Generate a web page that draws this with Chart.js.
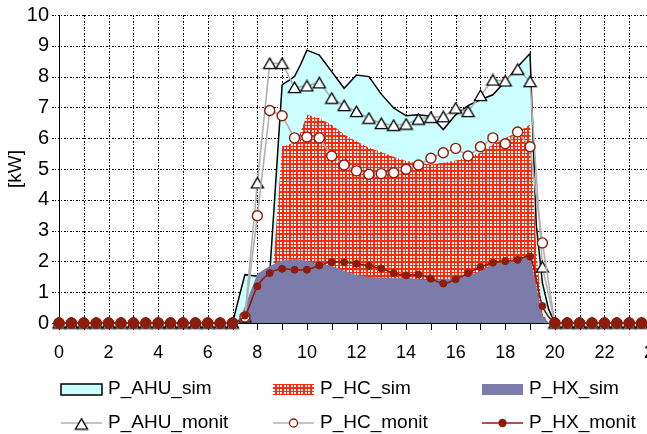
<!DOCTYPE html>
<html>
<head>
<meta charset="utf-8">
<script src="https://cdn.jsdelivr.net/npm/chart.js@4.4.1/dist/chart.umd.min.js"></script>
<style>
  html, body { margin: 0; padding: 0; background: #fff; }
  #wrap { width: 647px; height: 434px; overflow: hidden; position: relative; }
  canvas { display: block; }
</style>
</head>
<body>
<div id="wrap"><canvas id="chart" width="680" height="434"></canvas></div>
<script>
// Monitored values, every half hour
const monitHours = [0, 0.5, 1, 1.5, 2, 2.5, 3, 3.5, 4, 4.5, 5, 5.5, 6, 6.5, 7, 7.5,
  8, 8.5, 9, 9.5, 10, 10.5, 11, 11.5, 12, 12.5, 13, 13.5, 14, 14.5, 15, 15.5,
  16, 16.5, 17, 17.5, 18, 18.5, 19, 19.5, 20, 20.5, 21, 21.5, 22, 22.5, 23, 23.5];

const ahuMonit = [0, 0, 0, 0, 0, 0, 0, 0, 0, 0, 0, 0, 0, 0, 0, 0.2,
  4.55, 8.43, 8.43, 7.65, 7.7, 7.8, 7.3, 7.06, 6.87, 6.65, 6.48, 6.42, 6.46, 6.62, 6.68, 6.7,
  6.98, 6.87, 7.39, 7.89, 7.86, 8.24, 7.84, 1.82, 0, 0, 0, 0, 0, 0, 0, 0];

const hcMonit = [0, 0, 0, 0, 0, 0, 0, 0, 0, 0, 0, 0, 0, 0, 0, 0.2,
  3.48, 6.9, 6.73, 6.01, 6.04, 6.01, 5.42, 5.13, 4.94, 4.83, 4.85, 4.88, 4.99, 5.13, 5.35, 5.53,
  5.67, 5.42, 5.72, 6.01, 5.82, 6.2, 5.72, 2.6, 0, 0, 0, 0, 0, 0, 0, 0];

const hxMonit = [0, 0, 0, 0, 0, 0, 0, 0, 0, 0, 0, 0, 0, 0, 0, 0.24,
  1.19, 1.62, 1.76, 1.73, 1.73, 1.87, 1.98, 1.97, 1.92, 1.86, 1.77, 1.62, 1.55, 1.57, 1.44, 1.28,
  1.42, 1.62, 1.82, 1.96, 2.01, 2.05, 2.16, 0.55, 0, 0, 0, 0, 0, 0, 0, 0];

// Simulated values
const simHours = [0, 7, 7.25, 7.5, 8, 8.5, 9, 9.5, 9.75, 10, 10.5, 11, 11.5, 12, 12.5, 13, 13.5,
  14, 14.5, 15, 15.5, 16, 16.5, 17, 17.5, 18, 18.5, 19, 19.25, 19.5, 19.75, 20, 24];

const ahuSim = [0, 0, 0.8, 1.57, 1.52, 1.6, 7.73, 8.0, 8.4, 8.86, 8.7, 8.16, 7.62, 8.05, 8.0, 7.43, 6.98,
  6.73, 6.76, 6.71, 6.28, 6.76, 7.06, 7.25, 7.41, 7.84, 8.32, 8.75, 3.2, 1.3, 0.45, 0, 0];

const hcSim = [0, 0, 0, 0, 0, 0.3, 5.74, 5.85, 6.2, 6.76, 6.65, 6.44, 6.12, 5.9, 5.69, 5.55, 5.4,
  5.26, 5.2, 5.15, 5.2, 5.28, 5.37, 5.53, 5.8, 6.0, 6.2, 6.44, 2.4, 0.3, 0, 0, 0];

const hxSim = [0, 0, 0, 0.55, 1.6, 1.85, 2.03, 2.09, 2.05, 2.0, 1.93, 1.87, 1.7, 1.56, 1.49, 1.48, 1.45,
  1.47, 1.42, 1.39, 1.42, 1.45, 1.55, 1.68, 1.93, 1.98, 2.05, 2.19, 1.2, 0.25, 0, 0, 0];

const seriesLabels = ['P_AHU_sim', 'P_HC_sim', 'P_HX_sim', 'P_AHU_monit', 'P_HC_monit', 'P_HX_monit'];
const yTitle = '[kW]';

const FONT = '"Liberation Sans", Arial, sans-serif';
const GRAY = '#B0B0B0';
const DARKRED = '#8C1C0C';

function pts(xs, ys) { return xs.map((x, i) => ({ x: x, y: ys[i] })); }

// red / white checker fill
function makeChecker() {
  const c = document.createElement('canvas');
  c.width = 7; c.height = 7;
  const g = c.getContext('2d');
  g.fillStyle = 'rgb(255,40,10)';
  g.fillRect(0, 0, 7, 7);
  g.fillStyle = '#fff';
  [0, 4].forEach(x => [0, 4].forEach(y => g.fillRect(x, y, 2, 2)));
  return g.createPattern(c, 'repeat');
}

// Excel-like triangle marker, centred on its box
function makeTriangle() {
  const c = document.createElement('canvas');
  c.width = 15; c.height = 13;
  const g = c.getContext('2d');
  g.beginPath();
  g.moveTo(7.5, 1.2);
  g.lineTo(13.6, 11.6);
  g.lineTo(1.4, 11.6);
  g.closePath();
  g.fillStyle = '#fff';
  g.fill();
  g.lineWidth = 1.3;
  g.strokeStyle = '#000';
  g.stroke();
  return c;
}

const checker = makeChecker();
const triangle = makeTriangle();

// dotted grid + tick marks from the chart's own scales,
// painted behind everything already on the canvas
const dotGrid = {
  id: 'dotGrid',
  afterDraw(chart) {
    const { ctx, chartArea: a, scales: { x, y } } = chart;
    ctx.save();
    ctx.globalCompositeOperation = 'destination-over';
    ctx.lineWidth = 1;
    ctx.strokeStyle = '#000';
    ctx.setLineDash([]);
    x.ticks.forEach(t => {
      const px = Math.round(x.getPixelForValue(t.value)) + 0.5;
      ctx.beginPath();
      ctx.moveTo(px, a.bottom);
      ctx.lineTo(px, a.bottom + 7);
      ctx.stroke();
    });
    ctx.setLineDash([2, 1, 1, 2]);
    x.ticks.forEach(t => {
      if (t.value === 0) return;
      const px = Math.round(x.getPixelForValue(t.value)) + 0.5;
      ctx.beginPath();
      ctx.moveTo(px, a.top);
      ctx.lineTo(px, a.bottom);
      ctx.stroke();
    });
    y.ticks.forEach(t => {
      const py = Math.round(y.getPixelForValue(t.value)) + 0.5;
      ctx.beginPath();
      ctx.moveTo(a.left - 7, py);
      ctx.lineTo(t.value === 0 ? a.left : a.right, py);
      ctx.stroke();
    });
    ctx.restore();
  }
};

const LEG_X = [61, 273, 482];
const LEG_Y = [389, 423];

const gridLegend = {
  id: 'gridLegend',
  afterDraw(chart) {
    const ctx = chart.ctx;
    ctx.save();
    chart.data.datasets.forEach((ds, i) => {
      const x0 = LEG_X[i % 3], y = LEG_Y[Math.floor(i / 3)];
      if (i < 3) {
        ctx.fillStyle = ds.backgroundColor;
        ctx.fillRect(x0, y - 5, 41, 11);
        if (ds.borderWidth) {
          ctx.lineWidth = 1.5;
          ctx.strokeStyle = ds.borderColor;
          ctx.strokeRect(x0, y - 5, 41, 11);
        }
      } else {
        ctx.beginPath();
        ctx.moveTo(x0, y);
        ctx.lineTo(x0 + 41, y);
        ctx.lineWidth = ds.borderWidth;
        ctx.strokeStyle = ds.borderColor;
        ctx.stroke();
        const cx = x0 + 20.5;
        if (ds.pointStyle === triangle) {
          ctx.drawImage(triangle, cx - 7.5, y - 5.5);
        } else {
          ctx.beginPath();
          ctx.arc(cx, y, i === 4 ? 4 : 3.5, 0, Math.PI * 2);
          ctx.fillStyle = ds.pointBackgroundColor;
          ctx.fill();
          ctx.lineWidth = 1.3;
          ctx.strokeStyle = ds.pointBorderColor;
          ctx.stroke();
        }
      }
      ctx.fillStyle = '#000';
      ctx.font = '19px ' + FONT;
      ctx.textBaseline = 'middle';
      ctx.textAlign = 'left';
      ctx.fillText(ds.label, x0 + 47, y);
    });
    ctx.restore();
  }
};

new Chart(document.getElementById('chart'), {
  type: 'line',
  data: {
    datasets: [
      {
        label: seriesLabels[0], data: pts(simHours, ahuSim), order: 6,
        fill: 'origin', backgroundColor: '#CCFFFF', borderColor: '#000', borderWidth: 1.5,
        pointRadius: 0, tension: 0
      },
      {
        label: seriesLabels[1], data: pts(simHours, hcSim), order: 5,
        fill: 'origin', backgroundColor: checker, borderColor: 'rgba(0,0,0,0)', borderWidth: 0,
        pointRadius: 0, tension: 0
      },
      {
        label: seriesLabels[2], data: pts(simHours, hxSim), order: 4,
        fill: 'origin', backgroundColor: '#7B7CAA', borderColor: 'rgba(0,0,0,0)', borderWidth: 0,
        pointRadius: 0, tension: 0
      },
      {
        label: seriesLabels[3], data: pts(monitHours, ahuMonit), order: 3, clip: false,
        borderColor: GRAY, borderWidth: 1.6, pointStyle: triangle, pointRadius: 7, tension: 0
      },
      {
        label: seriesLabels[4], data: pts(monitHours, hcMonit), order: 2, clip: false,
        borderColor: GRAY, borderWidth: 1.6, pointStyle: 'circle', pointRadius: 5,
        pointBackgroundColor: '#fff', pointBorderColor: DARKRED, pointBorderWidth: 1.4, tension: 0
      },
      {
        label: seriesLabels[5], data: pts(monitHours, hxMonit), order: 1, clip: false,
        borderColor: DARKRED, borderWidth: 1.6, pointStyle: 'circle',
        pointRadius: c => (c.raw && c.raw.y === 0 ? 5.2 : 3.5),
        pointBackgroundColor: DARKRED, pointBorderColor: DARKRED, pointBorderWidth: 1, tension: 0.3
      }
    ]
  },
  options: {
    responsive: false,
    animation: false,
    layout: { padding: { left: 0, top: 13, right: 26, bottom: 0 } },
    plugins: { legend: { display: false }, tooltip: { enabled: false } },
    scales: {
      x: {
        type: 'linear', min: 0, max: 24,
        afterFit: s => { s.height = 111; },
        border: { display: true, color: '#000', width: 1 },
        grid: { display: false, tickLength: 7 },
        ticks: {
          stepSize: 1, autoSkip: false, maxRotation: 0, maxTicksLimit: 30,
          padding: 12, color: '#000', font: { family: FONT, size: 18 },
          callback: v => (v % 2 === 0 ? String(v) : '')
        }
      },
      y: {
        min: 0, max: 10,
        afterFit: s => { s.width = 59; },
        border: { display: true, color: '#000', width: 1 },
        grid: { display: false, tickLength: 7 },
        ticks: {
          stepSize: 1, padding: 3, color: '#000', font: { family: FONT, size: 20 }
        },
        title: {
          display: true, text: yTitle, color: '#000',
          font: { family: FONT, size: 19 }, padding: { top: 4, bottom: 0 }
        }
      }
    }
  },
  plugins: [dotGrid, gridLegend]
});
</script>
</body>
</html>
